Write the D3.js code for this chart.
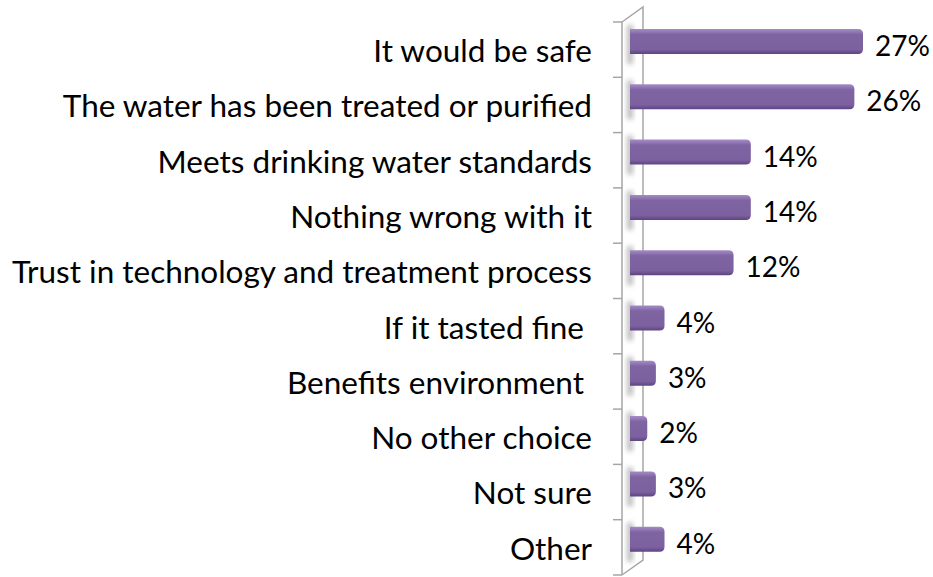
<!DOCTYPE html>
<html>
<head>
<meta charset="utf-8">
<script src="https://cdn.jsdelivr.net/npm/d3@7"></script>
<style>
  body { margin: 0; background: #fff; }
  text { font-family: Lato, "Open Sans", sans-serif; white-space: pre; }
</style>
</head>
<body>
<div id="chart"></div>
<script>
// categories and values
const categories = [
    "It would be safe",
    "The water has been treated or purified",
    "Meets drinking water standards",
    "Nothing wrong with it",
    "Trust in technology and treatment process",
    "If it tasted fine ",
    "Benefits environment ",
    "No other choice",
    "Not sure",
    "Other"
];
const values = [27, 26, 14, 14, 12, 4, 3, 2, 3, 4];
const valueLabels = ["27%", "26%", "14%", "14%", "12%", "4%", "3%", "2%", "3%", "4%"];

const w = 933, h = 577;
const depth = {dx: 21, dy: 15}; // 3D offset of the back wall

const svg = d3.select("#chart").append("svg")
    .attr("width", w)
    .attr("height", h);

const defs = svg.append("defs");

// bar gradient (lighter top face, darker bottom)
const barGrad = defs.append("linearGradient")
    .attr("id", "barGrad").attr("x1", 0).attr("y1", 0).attr("x2", 0).attr("y2", 1);
barGrad.append("stop").attr("offset", "0%").attr("stop-color", "#a48cc4");
barGrad.append("stop").attr("offset", "14%").attr("stop-color", "#8e73b2");
barGrad.append("stop").attr("offset", "22%").attr("stop-color", "#7f64a2");
barGrad.append("stop").attr("offset", "82%").attr("stop-color", "#7c609f");
barGrad.append("stop").attr("offset", "100%").attr("stop-color", "#5c4580");

const blur = defs.append("filter").attr("id", "soft")
    .attr("x", "-50%").attr("y", "-50%").attr("width", "200%").attr("height", "200%");
blur.append("feGaussianBlur").attr("stdDeviation", 2.5);

// scales
const y = d3.scaleBand()
    .domain(categories)
    .range([22, 575]);

const x = d3.scaleLinear()
    .domain([0, 27])
    .range([630, 863]);

const x0 = 622; // front edge of the wall
const barTop = 7, barH = 25, r = 5;

// back wall
const wall = svg.append("g");

// bar shadows on the wall
wall.selectAll("rect.shade")
    .data(categories)
    .enter()
    .append("rect")
    .attr("class", "shade")
    .attr("x", x0 + 5)
    .attr("y", d => y(d) + barTop - 4)
    .attr("width", 6)
    .attr("height", barH + 14)
    .attr("fill", "#bdbdbd")
    .attr("filter", "url(#soft)");

wall.append("path")
    .attr("d", `M${x0},${y.range()[0]} L${x0 + depth.dx},${y.range()[0] - depth.dy} L${x0 + depth.dx},${y.range()[1] - depth.dy} L${x0},${y.range()[1]}`)
    .attr("fill", "none")
    .attr("stroke", "#a6a6a6")
    .attr("stroke-width", 1.5);

// y axis (front edge with ticks)
const yAxis = d3.axisLeft(y).tickSize(0).tickFormat("");
const ax = svg.append("g")
    .attr("transform", `translate(${x0},0)`)
    .call(yAxis);
ax.select(".domain").attr("stroke", "#a6a6a6").attr("stroke-width", 1.5)
    .attr("d", `M0,${y.range()[0]}V${y.range()[1]}`);

const tickYs = categories.map(c => y(c)).concat([y.range()[1]]);
ax.selectAll("line.tk")
    .data(tickYs)
    .enter()
    .append("line")
    .attr("class", "tk")
    .attr("x1", -9).attr("x2", 0)
    .attr("y1", d => d).attr("y2", d => d)
    .attr("stroke", "#a6a6a6")
    .attr("stroke-width", 1.5);

// bars: square at the wall, rounded at the end
const rows = categories.map((c, i) => ({cat: c, v: values[i], label: valueLabels[i]}));

svg.selectAll("path.bar")
    .data(rows)
    .enter()
    .append("path")
    .attr("class", "bar")
    .attr("d", d => {
        const x1 = x(0), x2 = x(d.v);
        const t = y(d.cat) + barTop, b = t + barH;
        return `M${x1},${t} H${x2 - r} Q${x2},${t} ${x2},${t + r} V${b - r} Q${x2},${b} ${x2 - r},${b} H${x1} Z`;
    })
    .attr("fill", "url(#barGrad)");

// category labels
svg.selectAll("text.cat")
    .data(rows)
    .enter()
    .append("text")
    .attr("class", "cat")
    .attr("x", 592)
    .attr("y", d => y(d.cat) + 40)
    .attr("text-anchor", "end")
    .attr("font-size", 31.5)
    .attr("fill", "#000")
    .text(d => d.cat);

// value labels
svg.selectAll("text.val")
    .data(rows)
    .enter()
    .append("text")
    .attr("class", "val")
    .attr("x", d => x(d.v) + 12)
    .attr("y", d => y(d.cat) + 34)
    .attr("font-size", 28)
    .attr("fill", "#000")
    .text(d => d.label);
</script>
</body>
</html>
